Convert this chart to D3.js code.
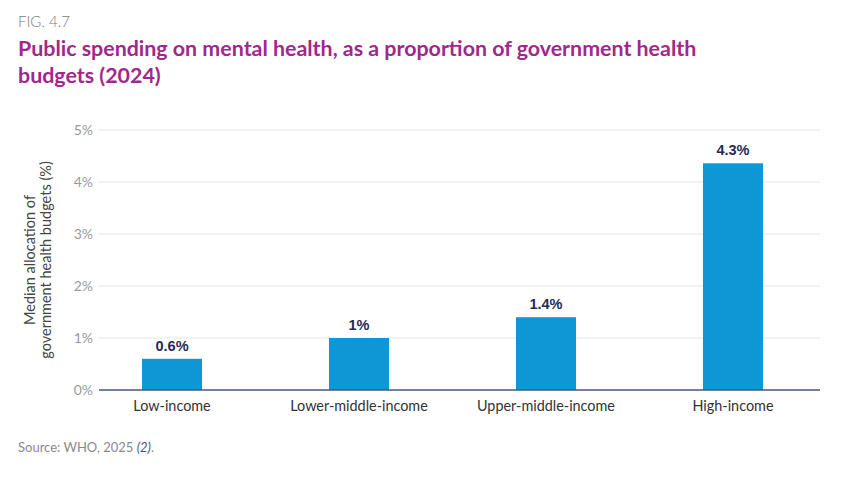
<!DOCTYPE html>
<html><head><meta charset="utf-8">
<script src="https://cdn.jsdelivr.net/npm/d3@7"></script>
<style>body{margin:0;background:#fff}svg{display:block}</style>
</head><body>
<svg id="c" width="841" height="478"></svg>
<script>
const categories = ["Low-income", "Lower-middle-income", "Upper-middle-income", "High-income"];
const values = [0.6, 1.0, 1.4, 4.36];
const valueLabels = ["0.6%", "1%", "1.4%", "4.3%"];
const yTicks = [0, 1, 2, 3, 4, 5];
const yTickLabels = ["0%", "1%", "2%", "3%", "4%", "5%"];

const svg = d3.select("#c");
const font = "Lato, 'Open Sans', sans-serif";
const pLeft = 99, pRight = 820, pTop = 130, pBottom = 390;

const x = d3.scaleBand().domain(categories).range([pLeft, pRight])
  .paddingInner(0.679).paddingOuter(0.2675).align(0.43);
const y = d3.scaleLinear().domain([0, 5]).range([pBottom, pTop]);

// title
svg.append("text").attr("x", 18).attr("y", 27).text("FIG. 4.7")
  .attr("font-family", font).attr("font-size", 15).attr("fill", "#7a7a7a").attr("font-weight", 300);
const t = svg.append("text").attr("font-family", font).attr("font-size", 21.4)
  .attr("font-weight", 700).attr("fill", "#a0288c");
t.append("tspan").attr("x", 18).attr("y", 56).text("Public spending on mental health, as a proportion of government health");
t.append("tspan").attr("x", 18).attr("y", 83).text("budgets (2024)");

// grid
svg.append("g").selectAll("line").data(yTicks.filter(d => d > 0)).join("line")
  .attr("x1", pLeft).attr("x2", pRight).attr("y1", d => y(d)).attr("y2", d => y(d))
  .attr("stroke", "#e6e6e6").attr("stroke-width", 1);

// y axis labels
const yAxis = d3.axisLeft(y).tickValues(yTicks).tickFormat((d, i) => yTickLabels[i]).tickSize(0).tickPadding(6);
const ga = svg.append("g").attr("transform", `translate(${pLeft},0)`).call(yAxis);
ga.select(".domain").remove();
ga.selectAll("text").attr("font-family", font).attr("font-size", 14).attr("fill", "#9a9a9a");

// bars
svg.append("g").selectAll("rect").data(values).join("rect")
  .attr("x", (d, i) => x(categories[i])).attr("width", x.bandwidth())
  .attr("y", d => y(d)).attr("height", d => y(0) - y(d)).attr("fill", "#0f97d5");

// value labels
svg.append("g").selectAll("text").data(values).join("text")
  .attr("x", (d, i) => x(categories[i]) + x.bandwidth() / 2).attr("y", d => y(d) - 8)
  .attr("text-anchor", "middle").text((d, i) => valueLabels[i])
  .attr("font-family", "'Liberation Sans', Arial, sans-serif").attr("font-weight", 700)
  .attr("font-size", 14.5).attr("fill", "#1f2b5c");

// x axis
const xAxis = d3.axisBottom(x).tickSize(0).tickPadding(11);
const gx = svg.append("g").attr("transform", `translate(0,${pBottom})`).call(xAxis);
gx.select(".domain").attr("stroke", "#4a5580").attr("stroke-width", 1.5).attr("d", `M${pLeft},0H${pRight}`);
gx.selectAll("text").attr("font-family", font).attr("font-size", 14.4).attr("fill", "#333");

// y title
const yt = svg.append("text").attr("transform", "translate(35,260) rotate(-90)")
  .attr("text-anchor", "middle").attr("font-family", font).attr("font-size", 14.5).attr("fill", "#444");
yt.append("tspan").attr("x", 0).attr("y", 0).text("Median allocation of");
yt.append("tspan").attr("x", 0).attr("y", 16).text("government health budgets (%)");

// source
const s = svg.append("text").attr("x", 18).attr("y", 452).attr("font-family", font)
  .attr("font-size", 13).attr("fill", "#8a8a8a");
s.append("tspan").text("Source: WHO, 2025 ");
s.append("tspan").attr("font-style", "italic").attr("fill", "#4a4f7a").text("(2)");
s.append("tspan").text(".");
</script>
</body></html>
